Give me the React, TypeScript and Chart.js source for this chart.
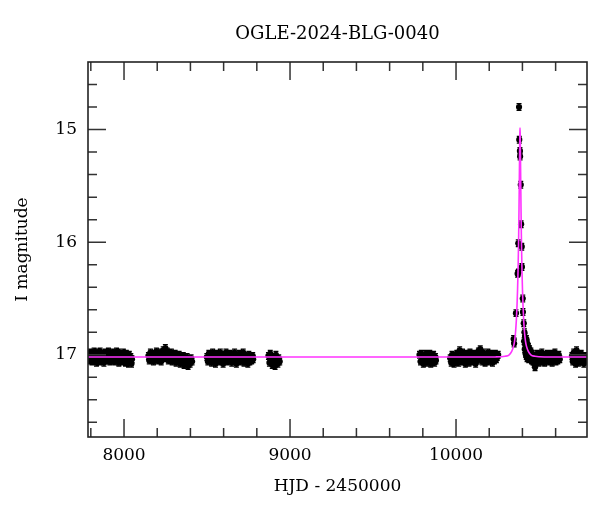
import { useEffect, useRef } from "react";
import { Chart, registerables } from "chart.js";

Chart.register(...registerables);

const TITLE = "OGLE-2024-BLG-0040";
const X_LABEL = "HJD - 2450000";
const Y_LABEL = "I magnitude";
const FONT = "'DejaVu Serif', 'Liberation Serif', serif";

const X_MIN = 7783;
const X_MAX = 10789;
const Y_MIN = 14.4;
const Y_MAX = 17.73;
const X_MAJOR = [8000, 9000, 10000];
const X_MINOR = [7800, 8200, 8400, 8600, 8800, 9200, 9400, 9600, 9800, 10200, 10400, 10600];
const Y_MAJOR = [15, 16, 17];
const Y_MINOR = [14.6, 14.8, 15.2, 15.4, 15.6, 15.8, 16.2, 16.4, 16.6, 16.8, 17.2, 17.4, 17.6];
const ERR = 0.03;

const S1_T = [
  7784, 7789, 7793, 7798, 7802, 7807, 7811, 7816, 7820, 7825,
  7829, 7834, 7838, 7843, 7847, 7852, 7856, 7861, 7865, 7870,
  7874, 7879, 7883, 7888, 7892, 7897, 7901, 7906, 7910, 7915,
  7919, 7924, 7928, 7933, 7937, 7942, 7946, 7951, 7955, 7960,
  7964, 7969, 7973, 7978, 7982, 7987, 7991, 7996, 8000, 8005,
  8009, 8014, 8018, 8023, 8027, 8032, 8036, 8041, 8045, 8048,
];
const S1_M = [
  17.0, 17.05, 16.98, 17.04, 17.01, 17.06, 16.99, 17.03, 16.97, 17.05,
  17.02, 17.07, 16.98, 17.03, 17.0, 17.06, 16.97, 17.04, 17.01, 17.05,
  16.99, 17.07, 17.02, 16.98, 17.05, 17.01, 17.04, 16.97, 17.03, 17.06,
  17.0, 17.04, 16.98, 17.05, 17.02, 16.99, 17.06, 17.03, 16.97, 17.04,
  17.01, 17.07, 16.98, 17.05, 17.02, 17.0, 17.06, 16.98, 17.04, 17.01,
  17.07, 16.99, 17.05, 17.03, 17.08, 17.0, 17.06, 17.02, 17.08, 17.04,
];
const S2_T = [
  8147, 8152, 8159, 8164, 8170, 8177, 8182, 8188, 8195, 8200,
  8206, 8213, 8218, 8224, 8231, 8236, 8242, 8249, 8254, 8260,
  8267, 8272, 8278, 8285, 8290, 8296, 8303, 8308, 8314, 8321,
  8326, 8332, 8339, 8344, 8350, 8357, 8362, 8368, 8375, 8380,
  8386, 8393, 8398, 8404, 8410,
];
const S2_M = [
  17.01, 17.05, 16.98, 17.04, 17.0, 17.06, 16.99, 17.03, 16.97, 17.05,
  17.01, 17.04, 16.98, 17.06, 17.0, 16.96, 17.03, 16.94, 17.02, 16.97,
  17.05, 16.99, 17.04, 16.98, 17.06, 17.01, 17.03, 16.99, 17.07, 17.02,
  17.05, 17.0, 17.08, 17.03, 17.06, 17.01, 17.09, 17.04, 17.07, 17.02,
  17.1, 17.05, 17.08, 17.03, 17.06,
];
const S3_T = [
  8499, 8505, 8511, 8516, 8522, 8528, 8534, 8539, 8545, 8551,
  8557, 8562, 8568, 8574, 8580, 8585, 8591, 8597, 8603, 8608,
  8614, 8620, 8626, 8631, 8637, 8643, 8649, 8654, 8660, 8666,
  8672, 8677, 8683, 8689, 8695, 8700, 8706, 8712, 8718, 8723,
  8729, 8735, 8741, 8746, 8752, 8758, 8764, 8769, 8775, 8778,
];
const S3_M = [
  17.02, 17.06, 16.99, 17.04, 17.01, 17.07, 16.98, 17.05, 17.02, 17.08,
  16.99, 17.04, 17.01, 17.06, 16.98, 17.05, 17.03, 17.08, 17.0, 17.04,
  16.98, 17.06, 17.02, 17.05, 16.99, 17.03, 17.07, 17.0, 17.05, 16.98,
  17.04, 17.08, 17.01, 17.05, 16.99, 17.06, 17.02, 17.04, 16.98, 17.07,
  17.01, 17.05, 17.03, 17.08, 17.0, 17.06, 17.02, 17.05, 17.01, 17.04,
];
const S4_T = [8870, 8876, 8881, 8887, 8893, 8898, 8904, 8910, 8915, 8921, 8927, 8932, 8938];
const S4_M = [17.01, 17.07, 16.99, 17.05, 17.09, 17.02, 17.06, 17.1, 17.0, 17.04, 17.08, 17.03, 17.06];
const S5_T = [
  9780, 9786, 9791, 9797, 9803, 9808, 9814, 9820, 9825, 9831,
  9837, 9842, 9848, 9854, 9859, 9865, 9871, 9876, 9879,
];
const S5_M = [
  17.0, 17.06, 16.99, 17.04, 17.08, 17.01, 17.05, 16.99, 17.07, 17.02,
  17.05, 16.99, 17.08, 17.03, 17.06, 17.0, 17.07, 17.02, 17.05,
];
const S6_T = [
  9965, 9971, 9976, 9982, 9988, 9993, 9999, 10005, 10010, 10016,
  10022, 10027, 10033, 10039, 10044, 10050, 10056, 10061, 10067, 10073,
  10078, 10084, 10090, 10095, 10101, 10107, 10112, 10118, 10124, 10129,
  10135, 10141, 10146, 10152, 10158, 10163, 10169, 10175, 10180, 10186,
  10192, 10197, 10203, 10209, 10214, 10220, 10226, 10231, 10237, 10243,
  10248, 10254,
];
const S6_M = [
  17.03, 17.07, 17.0, 17.05, 17.08, 17.01, 17.06, 16.99, 17.04, 17.07,
  16.96, 17.02, 17.05, 16.98, 17.06, 17.01, 17.08, 16.99, 17.04, 17.02,
  17.07, 16.98, 17.05, 17.01, 17.06, 16.99, 17.03, 17.08, 17.0, 17.05,
  16.97, 17.03, 16.95, 17.01, 17.06, 16.98, 17.04, 17.07, 17.0, 17.05,
  16.98, 17.06, 17.02, 17.04, 16.99, 17.07, 17.01, 17.05, 16.99, 17.04,
  17.02, 17.0,
];
const S7_T = [
  10347, 10350, 10361, 10371, 10375, 10376, 10379.5, 10381, 10385, 10386,
  10390, 10392, 10396, 10397, 10402, 10403, 10408, 10410, 10412, 10414,
  10416, 10418, 10419, 10421, 10423, 10424, 10427, 10428, 10430, 10432,
  10433, 10436, 10438, 10440, 10443, 10447, 10451, 10455, 10459, 10463,
  10467, 10471, 10476, 10480, 10485, 10490, 10495, 10500, 10506, 10511,
  10517, 10522, 10528, 10534, 10539, 10545, 10551, 10556, 10562, 10568,
  10573, 10579, 10585, 10590, 10596, 10602, 10607, 10613, 10619, 10625,
];
const S7_M = [
  16.86, 16.9, 16.63, 16.28, 16.01, 16.27, 14.8, 15.09, 15.19, 15.24,
  15.49, 15.84, 16.04, 16.22, 16.5, 16.62, 16.72, 16.88, 16.8, 16.95,
  16.84, 16.88, 16.99, 16.92, 17.01, 16.86, 16.95, 17.03, 16.9, 17.0,
  16.97, 16.93, 17.04, 17.0, 16.95, 17.03, 16.97, 17.05, 16.99, 17.06,
  17.01, 17.08, 17.11, 17.02, 17.06, 16.99, 17.04, 17.07, 17.0, 17.05,
  16.98, 17.06, 17.02, 17.07, 17.0, 17.04, 16.99, 17.06, 17.02, 17.05,
  16.99, 17.07, 17.01, 17.04, 16.98, 17.06, 17.02, 17.05, 17.0, 17.04,
];
const S8_T = [
  10698, 10703, 10709, 10714, 10720, 10726, 10731, 10737, 10742, 10748,
  10754, 10759, 10765, 10770, 10776, 10782, 10787,
];
const S8_M = [
  17.01, 17.06, 16.98, 17.04, 17.08, 16.96, 17.03, 17.07, 17.0, 17.05,
  16.99, 17.06, 17.02, 17.08, 17.01, 17.05, 17.03,
];

const MODEL_T = [
  7783, 10100, 10235.5, 10295.5, 10320.5, 10335.5, 10345.5, 10352.5, 10358.5, 10363.5,
  10367.5, 10370.5, 10373.5, 10375.5, 10377.5, 10379.5, 10381.5, 10382.5, 10383.5, 10384.5,
  10385.5, 10386.5, 10387.5, 10388.5, 10389.5, 10391.5, 10393.5, 10395.5, 10397.5, 10400.5,
  10403.5, 10407.5, 10412.5, 10418.5, 10425.5, 10435.5, 10450.5, 10475.5, 10535.5, 10789,
];
const MODEL_M = [
  17.02, 17.02, 17.019, 17.013, 17.0, 16.97, 16.93, 16.88, 16.8, 16.69,
  16.56, 16.43, 16.26, 16.11, 15.93, 15.7, 15.42, 15.28, 15.13, 15.03,
  14.986, 15.03, 15.13, 15.28, 15.42, 15.7, 15.93, 16.11, 16.26, 16.43,
  16.56, 16.69, 16.8, 16.88, 16.93, 16.97, 17.0, 17.013, 17.019, 17.02,
];

const SEASONS: [number[], number[]][] = [
  [S1_T, S1_M], [S2_T, S2_M], [S3_T, S3_M], [S4_T, S4_M],
  [S5_T, S5_M], [S6_T, S6_M], [S7_T, S7_M], [S8_T, S8_M],
];

const framePlugin = {
  id: "frameTicks",
  beforeDatasetsDraw(chart: any) {
    const { ctx, chartArea: a, scales } = chart;
    const xs = scales.x, ys = scales.y;
    const data = chart.data.datasets[1].data as { x: number; y: number }[];
    ctx.save();
    ctx.beginPath();
    ctx.rect(a.left, a.top, a.right - a.left, a.bottom - a.top);
    ctx.clip();
    ctx.strokeStyle = "#000";
    ctx.lineWidth = 1.2;
    ctx.beginPath();
    data.forEach((p) => {
      const px = xs.getPixelForValue(p.x);
      const y1 = ys.getPixelForValue(p.y - ERR);
      const y2 = ys.getPixelForValue(p.y + ERR);
      ctx.moveTo(px, y1);
      ctx.lineTo(px, y2);
      ctx.moveTo(px - 2.5, y1);
      ctx.lineTo(px + 2.5, y1);
      ctx.moveTo(px - 2.5, y2);
      ctx.lineTo(px + 2.5, y2);
    });
    ctx.stroke();
    ctx.restore();
  },
  afterDraw(chart: any) {
    const { ctx, chartArea: a, scales } = chart;
    const xs = scales.x, ys = scales.y;
    ctx.save();
    ctx.strokeStyle = "#333";
    ctx.lineWidth = 1.5;
    const tick = (vals: number[], len: number) => {
      vals.forEach((v) => {
        const px = xs.getPixelForValue(v);
        ctx.moveTo(px, a.bottom);
        ctx.lineTo(px, a.bottom - len);
        ctx.moveTo(px, a.top);
        ctx.lineTo(px, a.top + len);
      });
    };
    const ytick = (vals: number[], len: number) => {
      vals.forEach((v) => {
        const py = ys.getPixelForValue(v);
        ctx.moveTo(a.left, py);
        ctx.lineTo(a.left + len, py);
        ctx.moveTo(a.right, py);
        ctx.lineTo(a.right - len, py);
      });
    };
    ctx.beginPath();
    tick(X_MAJOR, 18);
    tick(X_MINOR, 9);
    ytick(Y_MAJOR, 18);
    ytick(Y_MINOR, 9);
    ctx.stroke();
    ctx.strokeStyle = "#222";
    ctx.lineWidth = 1.6;
    ctx.strokeRect(a.left, a.top, a.right - a.left, a.bottom - a.top);
    ctx.restore();
  },
};

export default function App() {
  const ref = useRef<HTMLCanvasElement | null>(null);
  useEffect(() => {
    if (!ref.current) return;
    const points: { x: number; y: number }[] = [];
    SEASONS.forEach(([t, m]) => {
      const n = Math.min(t.length, m.length);
      for (let i = 0; i < n; i++) points.push({ x: t[i], y: m[i] });
    });
    const model = MODEL_T.map((t, i) => ({ x: t, y: MODEL_M[i] }));
    const chart = new Chart(ref.current, {
      type: "scatter",
      data: {
        datasets: [
          {
            type: "line",
            label: "model",
            data: model,
            borderColor: "#ff33ff",
            borderWidth: 1.6,
            pointRadius: 0,
            cubicInterpolationMode: "monotone",
            fill: false,
          } as any,
          {
            label: "OGLE",
            data: points,
            backgroundColor: "#000",
            borderColor: "#000",
            borderWidth: 0,
            pointRadius: 3.1,
            showLine: false,
          },
        ],
      },
      options: {
        animation: false,
        responsive: true,
        maintainAspectRatio: false,
        layout: { padding: { left: 0, right: 13, top: 0, bottom: 0 } },
        plugins: {
          legend: { display: false },
          tooltip: { enabled: false },
          title: {
            display: true,
            text: TITLE,
            fullSize: false,
            color: "#000",
            font: { family: FONT, size: 18, weight: "normal" },
            padding: { top: 24, bottom: 16.4 },
          },
        },
        scales: {
          x: {
            type: "linear",
            min: X_MIN,
            max: X_MAX,
            grid: { display: false, drawTicks: false },
            border: { display: false },
            afterBuildTicks: (s: any) => {
              s.ticks = X_MAJOR.map((v) => ({ value: v }));
            },
            afterFit: (s: any) => {
              s.height = 75;
            },
            ticks: {
              color: "#000",
              font: { family: FONT, size: 17 },
              padding: 8,
              maxRotation: 0,
              autoSkip: false,
              callback: (v: any) => String(v),
            },
            title: {
              display: true,
              text: X_LABEL,
              color: "#000",
              font: { family: FONT, size: 17 },
              padding: { top: 0, bottom: 15 },
            },
          },
          y: {
            type: "linear",
            reverse: true,
            min: Y_MIN,
            max: Y_MAX,
            grid: { display: false, drawTicks: false },
            border: { display: false },
            afterBuildTicks: (s: any) => {
              s.ticks = Y_MAJOR.map((v) => ({ value: v }));
            },
            afterFit: (s: any) => {
              s.width = 88;
            },
            ticks: {
              color: "#000",
              font: { family: FONT, size: 17 },
              padding: 11,
              autoSkip: false,
              callback: (v: any) => String(v),
            },
            title: {
              display: true,
              text: Y_LABEL,
              color: "#000",
              font: { family: FONT, size: 17 },
              padding: { top: 12, bottom: 0 },
            },
          },
        },
      },
      plugins: [framePlugin],
    });
    return () => chart.destroy();
  }, []);
  return (
    <div style={{ position: "absolute", left: 0, top: 0, width: 600, height: 512, background: "#fff" }}>
      <canvas ref={ref} />
    </div>
  );
}
